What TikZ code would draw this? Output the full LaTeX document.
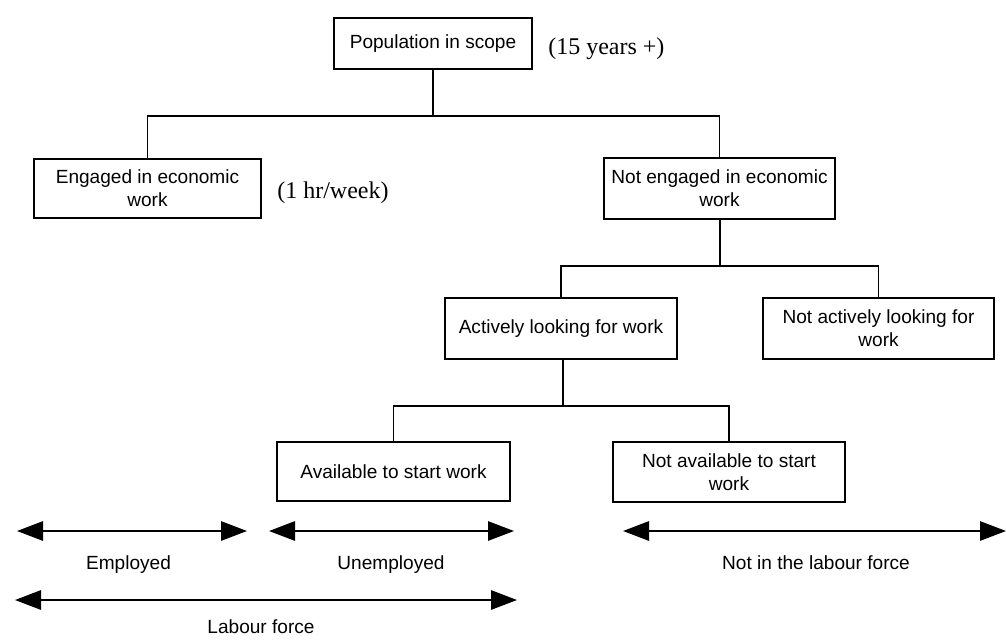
\documentclass[tikz,border=0pt]{standalone}
\usepackage{fontspec}
\setmainfont{Liberation Serif}
\setsansfont{Liberation Sans}
\usetikzlibrary{arrows.meta}
\begin{document}
\begin{tikzpicture}[x=0.75pt,y=-0.75pt,
  box/.style={draw, line width=1.4pt, align=center, inner sep=0pt,
    font=\sffamily\fontsize{14.3}{17.3}\selectfont},
  note/.style={font=\rmfamily\fontsize{18}{21}\selectfont, anchor=base west, inner sep=0pt},
  rangelabel/.style={font=\sffamily\fontsize{14.3}{17.3}\selectfont, anchor=base, inner sep=0pt},
  link/.style={line width=1.4pt},
  span/.style={line width=1.4pt, {Triangle[length=19.5pt,width=14.5pt]}-{Triangle[length=19.5pt,width=14.5pt]}}
]
\fill[white] (0,0) rectangle (1006,643);
\useasboundingbox (0,0) rectangle (1006,643);

% tree of categories
\node[box, minimum width=148.5pt, minimum height=38.25pt] (pop) at (433,43.5) {Population in scope};
\node[note] (age) at (548,54) {(15 years +)};

\node[box, minimum width=170.25pt, minimum height=44.25pt] (eng) at (147.5,188.5) {Engaged in economic\\work};
\node[note] (hrs) at (277,198) {(1 hr/week)};
\node[box, minimum width=173.25pt, minimum height=45.75pt] (neng) at (719.5,188.5) {Not engaged in economic\\work};

\node[box, minimum width=174pt, minimum height=45.75pt] (act) at (561,328.5) {Actively looking for work};
\node[box, minimum width=173.25pt, minimum height=45.75pt] (nact) at (878.5,328.5) {Not actively looking for\\work};

\node[box, minimum width=174.75pt, minimum height=44.25pt] (avail) at (393.5,471.5) {Available to start work};
\node[box, minimum width=174pt, minimum height=45pt] (navail) at (729,472) {Not available to start\\work};

% branch junctions
\coordinate (j1) at (433,116);
\coordinate (j2) at (720,266);
\coordinate (j3) at (563,406);

\draw[link] (pop.south) -- (j1);
\draw[link] (eng.north) |- (j1) -| (neng.north);
\draw[link] (neng.south -| j2) -- (j2);
\draw[link] (act.north) |- (j2) -| (nact.north);
\draw[link] (act.south -| j3) -- (j3);
\draw[link] (avail.north) |- (j3) -| (navail.north);

% status ranges
\coordinate (e1) at (17,531);   \coordinate (e2) at (247,531);
\coordinate (u1) at (269,531);  \coordinate (u2) at (514,531);
\coordinate (n1) at (623,531);  \coordinate (n2) at (1006,531);
\coordinate (l1) at (15,600);   \coordinate (l2) at (517,600);

\draw[span] (e1) -- (e2);
\draw[span] (u1) -- (u2);
\draw[span] (n1) -- (n2);
\draw[span] (l1) -- (l2);

\node[rangelabel] (emp) at (128.5,569) {Employed};
\node[rangelabel] (unemp) at (391,569) {Unemployed};
\node[rangelabel] (nlf) at (816,569) {Not in the labour force};
\node[rangelabel] (lf) at (261,633) {Labour force};
\end{tikzpicture}
\end{document}
